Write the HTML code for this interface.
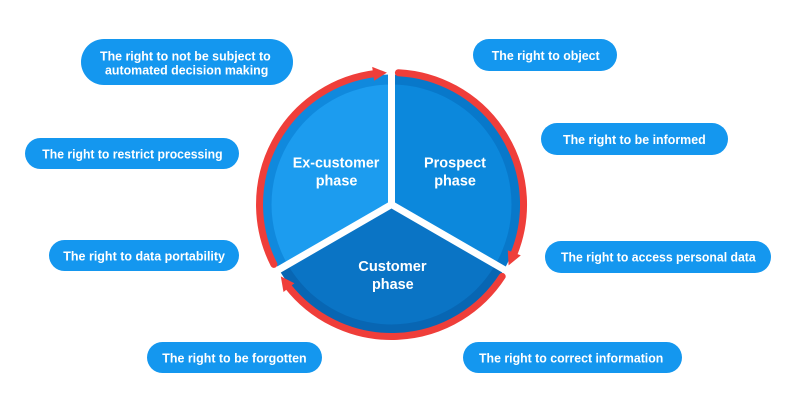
<!DOCTYPE html>
<html><head><meta charset="utf-8"><style>
html,body{margin:0;padding:0;background:#fff;}
svg{display:block;}
.p{fill:#1497ef;}
.t{font-family:"Liberation Sans",Arial,sans-serif;font-weight:bold;font-size:12.5px;fill:#fff;}
.h{font-family:"Liberation Sans",Arial,sans-serif;font-weight:bold;font-size:14.5px;fill:#fff;}
</style></head><body>
<svg width="800" height="413" viewBox="0 0 800 413" xmlns="http://www.w3.org/2000/svg">
<rect width="800" height="413" fill="#fff"/>
<!-- pills -->
<rect class="p" x="81" y="39" width="212" height="46" rx="23"/>
<rect class="p" x="25" y="138" width="214" height="31" rx="15.5"/>
<rect class="p" x="49" y="240" width="190" height="31" rx="15.5"/>
<rect class="p" x="147" y="342" width="175" height="31" rx="15.5"/>
<rect class="p" x="473" y="39" width="144" height="32" rx="16"/>
<rect class="p" x="541" y="123" width="187" height="32" rx="16"/>
<rect class="p" x="545" y="241" width="226" height="32" rx="16"/>
<rect class="p" x="463" y="342" width="219" height="31" rx="15.5"/>

<text class="t" x="100" y="60.5" textLength="170.7" lengthAdjust="spacingAndGlyphs">The right to not be subject to</text>
<text class="t" x="105" y="74.5" textLength="163.3" lengthAdjust="spacingAndGlyphs">automated decision making</text>
<text class="t" x="42.3" y="158.5" textLength="180.3" lengthAdjust="spacingAndGlyphs">The right to restrict processing</text>
<text class="t" x="63.3" y="260.5" textLength="161.7" lengthAdjust="spacingAndGlyphs">The right to data portability</text>
<text class="t" x="162.3" y="362.5" textLength="144.3" lengthAdjust="spacingAndGlyphs">The right to be forgotten</text>
<text class="t" x="491.7" y="60" textLength="108" lengthAdjust="spacingAndGlyphs">The right to object</text>
<text class="t" x="563" y="144" textLength="142.7" lengthAdjust="spacingAndGlyphs">The right to be informed</text>
<text class="t" x="561" y="261.5" textLength="194.7" lengthAdjust="spacingAndGlyphs">The right to access personal data</text>
<text class="t" x="479" y="362.5" textLength="184.3" lengthAdjust="spacingAndGlyphs">The right to correct information</text>

<!-- sectors outer ring -->
<path d="M391.5,204.5 L391.5,74.5 A130,130 0 0 1 504.1,269.5 Z" fill="#0878ca"/>
<path d="M391.5,204.5 L504.1,269.5 A130,130 0 0 1 278.9,269.5 Z" fill="#0866b3"/>
<path d="M391.5,204.5 L278.9,269.5 A130,130 0 0 1 391.5,74.5 Z" fill="#1089dd"/>
<!-- sectors inner -->
<path d="M391.5,204.5 L391.5,84.5 A120,120 0 0 1 495.4,264.5 Z" fill="#0c88dc"/>
<path d="M391.5,204.5 L495.4,264.5 A120,120 0 0 1 287.6,264.5 Z" fill="#0a74c5"/>
<path d="M391.5,204.5 L287.6,264.5 A120,120 0 0 1 391.5,84.5 Z" fill="#1c9cef"/>
<!-- gaps -->
<g stroke="#fff" stroke-width="7" stroke-linecap="butt">
<line x1="391.5" y1="204.5" x2="391.5" y2="62"/>
<line x1="391.5" y1="204.5" x2="514.9" y2="275.8"/>
<line x1="391.5" y1="204.5" x2="268.1" y2="275.8"/>
</g>
<circle cx="391.5" cy="204.5" r="4" fill="#fff"/>

<!-- red arcs -->
<g fill="none" stroke="#ef3e3a" stroke-width="7" stroke-linecap="round">
<path d="M273.9,264.4 A132,132 0 0 1 375.4,73.5"/>
<path d="M398.4,72.7 A132,132 0 0 1 513.5,255.0"/>
<path d="M502.2,276.4 A132,132 0 0 1 287.5,285.8"/>
</g>
<g fill="#ef3e3a">
<polygon points="372.2,66.9 386.9,72.6 374.1,80.7"/>
<polygon points="520.8,255.4 508.6,265.4 507.8,250.3"/>
<polygon points="283.5,292.0 280.8,276.4 294.4,283.2"/>
</g>

<!-- phase labels -->
<text class="h" x="292.7" y="167.5" textLength="86.7" lengthAdjust="spacingAndGlyphs">Ex-customer</text>
<text class="h" x="315.7" y="185.5" textLength="41.7" lengthAdjust="spacingAndGlyphs">phase</text>
<text class="h" x="424" y="167.5" textLength="62" lengthAdjust="spacingAndGlyphs">Prospect</text>
<text class="h" x="434.2" y="185.5" textLength="41.7" lengthAdjust="spacingAndGlyphs">phase</text>
<text class="h" x="358.3" y="271" textLength="68.3" lengthAdjust="spacingAndGlyphs">Customer</text>
<text class="h" x="372" y="289" textLength="41.7" lengthAdjust="spacingAndGlyphs">phase</text>
</svg>
</body></html>
